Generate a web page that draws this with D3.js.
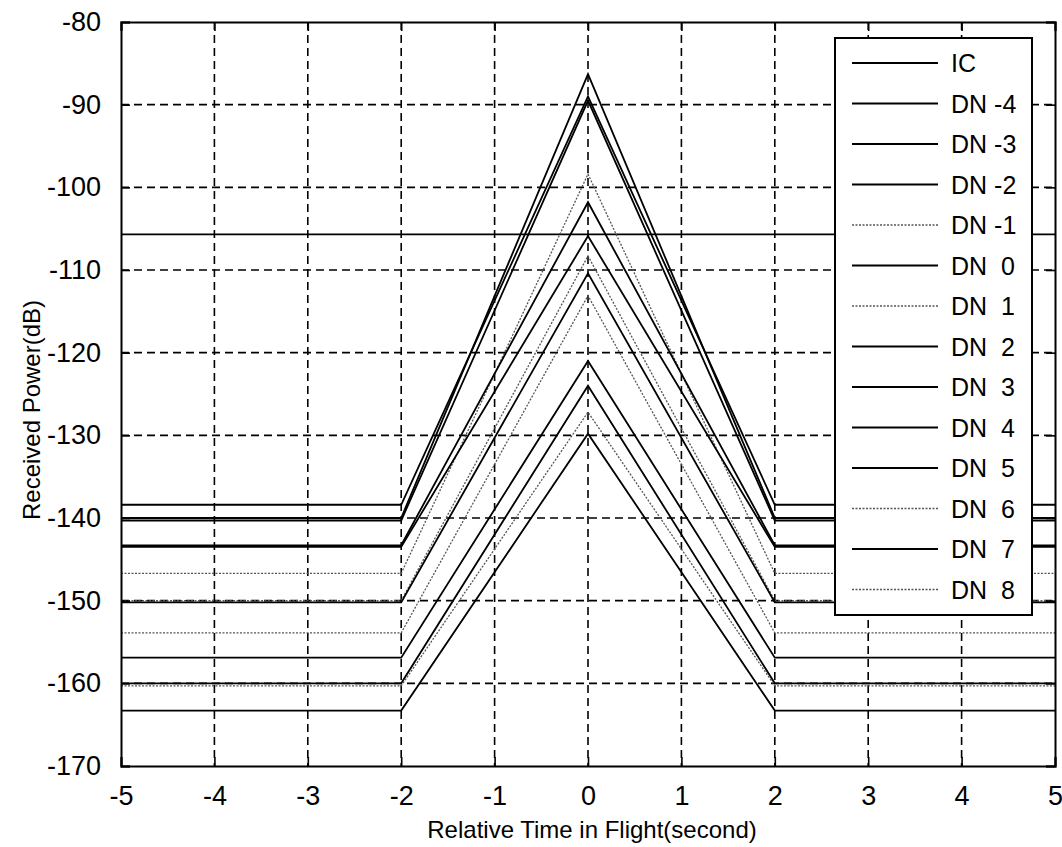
<!DOCTYPE html>
<html>
<head>
<meta charset="utf-8">
<script src="https://cdn.jsdelivr.net/npm/d3@7"></script>
<style>
  body { margin: 0; background: #fff; }
  text { font-family: "Liberation Sans", Arial, sans-serif; fill: #000; }
</style>
</head>
<body>
<script>

// x positions where the curves change direction (seconds)
let xKnots = [-5, -2, 0, 2, 5];

// series, values in dB at each knot
let seriesNames = ["IC", "DN -4", "DN -3", "DN -2", "DN -1", "DN  0", "DN  1", "DN  2", "DN  3", "DN  4", "DN  5", "DN  6", "DN  7", "DN  8"];
let seriesDotted = [false, false, false, false, true, false, true, false, false, false, false, true, false, true];

let icValues = [-105.7, -105.7, -105.7, -105.7, -105.7];
let dnM4 = [-140.0, -140.0, -86.3, -140.0, -140.0];
let dnM3 = [-138.4, -138.4, -89.0, -138.4, -138.4];
let dnM2 = [-140.3, -140.3, -89.5, -140.3, -140.3];
let dnM1 = [-146.7, -146.7, -98.4, -146.7, -146.7];
let dn0 = [-143.3, -143.3, -101.8, -143.3, -143.3];
let dn1 = [-150.0, -150.0, -108.3, -150.0, -150.0];
let dn2 = [-143.5, -143.5, -105.9, -143.5, -143.5];
let dn3 = [-150.2, -150.2, -110.4, -150.2, -150.2];
let dn4 = [-156.9, -156.9, -121.0, -156.9, -156.9];
let dn5 = [-160.0, -160.0, -124.0, -160.0, -160.0];
let dn6 = [-153.9, -153.9, -113.1, -153.9, -153.9];
let dn7 = [-163.3, -163.3, -129.8, -163.3, -163.3];
let dn8 = [-160.3, -160.3, -127.2, -160.3, -160.3];

let allSeries = [icValues, dnM4, dnM3, dnM2, dnM1, dn0, dn1, dn2, dn3, dn4, dn5, dn6, dn7, dn8];

let xTicks = [-5, -4, -3, -2, -1, 0, 1, 2, 3, 4, 5];
let yTicks = [-80, -90, -100, -110, -120, -130, -140, -150, -160, -170];

let width = 1062;
let height = 847;
let plotLeft = 121, plotRight = 1055, plotTop = 22, plotBottom = 766;

let xScale = d3.scaleLinear().domain([-5, 5]).range([plotLeft, plotRight]);
let yScale = d3.scaleLinear().domain([-170, -80]).range([plotBottom, plotTop]);

let svg = d3.select("body")
    .append("svg")
    .attr("width", width)
    .attr("height", height);

svg.append("defs").append("clipPath")
    .attr("id", "plotclip")
    .append("rect")
    .attr("x", plotLeft).attr("y", plotTop)
    .attr("width", plotRight - plotLeft).attr("height", plotBottom - plotTop);

// grid
let grid = svg.append("g").attr("id", "grid");
grid.selectAll("line.vg")
    .data(xTicks.slice(1, -1))
    .enter()
    .append("line")
    .attr("class", "vg")
    .attr("x1", d => xScale(d)).attr("x2", d => xScale(d))
    .attr("y1", plotTop).attr("y2", plotBottom)
    .attr("stroke", "#000").attr("stroke-width", 1.6)
    .attr("stroke-dasharray", "8,5");
grid.selectAll("line.hg")
    .data(yTicks.slice(1, -1))
    .enter()
    .append("line")
    .attr("class", "hg")
    .attr("x1", plotLeft).attr("x2", plotRight)
    .attr("y1", d => yScale(d)).attr("y2", d => yScale(d))
    .attr("stroke", "#000").attr("stroke-width", 1.6)
    .attr("stroke-dasharray", "8,5");

// series lines
let line = d3.line()
    .x((d, i) => xScale(xKnots[i]))
    .y(d => yScale(d));

svg.append("g")
    .attr("clip-path", "url(#plotclip)")
    .selectAll("path")
    .data(allSeries)
    .enter()
    .append("path")
    .attr("d", d => line(d))
    .attr("fill", "none")
    .attr("stroke", (d, i) => seriesDotted[i] ? "#555" : "#000")
    .attr("stroke-width", (d, i) => seriesDotted[i] ? 1.3 : 1.8)
    .attr("stroke-dasharray", (d, i) => seriesDotted[i] ? "2,1.5" : null);

// axes (MATLAB style box with inward ticks), labels use a plain hyphen
let plainNum = d => String(d);

let xAxis = d3.axisBottom(xScale).tickValues(xTicks).tickSize(-9).tickPadding(20).tickFormat(plainNum);
svg.append("g")
    .attr("id", "x-axis")
    .attr("transform", "translate(0," + plotBottom + ")")
    .call(xAxis);
let xTop = d3.axisTop(xScale).tickValues(xTicks).tickSize(-9).tickFormat("");
svg.append("g").attr("transform", "translate(0," + plotTop + ")").call(xTop);

let yAxis = d3.axisLeft(yScale).tickValues(yTicks).tickSize(-9).tickPadding(20).tickFormat(plainNum);
svg.append("g")
    .attr("id", "y-axis")
    .attr("transform", "translate(" + plotLeft + ",0)")
    .call(yAxis);
let yRight = d3.axisRight(yScale).tickValues(yTicks).tickSize(-9).tickFormat("");
svg.append("g").attr("transform", "translate(" + plotRight + ",0)").call(yRight);

svg.selectAll(".domain").attr("stroke", "#000").attr("stroke-width", 2);
svg.selectAll(".tick line").attr("stroke", "#000").attr("stroke-width", 1.6);
svg.selectAll(".tick text")
    .style("font-family", "'Liberation Sans', Arial, sans-serif")
    .style("font-size", "27px")
    .attr("fill", "#000");

// axis labels
svg.append("text")
    .attr("x", 592)
    .attr("y", 838)
    .attr("text-anchor", "middle")
    .style("font-size", "24px")
    .text("Relative Time in Flight(second)");

svg.append("text")
    .attr("transform", "translate(40,410) rotate(-90)")
    .attr("text-anchor", "middle")
    .style("font-size", "24px")
    .text("Received Power(dB)");

// legend
let legX = 835, legY = 38, legW = 197, legH = 577;
let legend = svg.append("g").attr("id", "legend");
legend.append("rect")
    .attr("x", legX).attr("y", legY)
    .attr("width", legW).attr("height", legH)
    .attr("fill", "#fff").attr("stroke", "#000").attr("stroke-width", 2);

let rowStep = 40.5;
let rows = legend.selectAll("g.row")
    .data(seriesNames)
    .enter()
    .append("g")
    .attr("class", "row")
    .attr("transform", (d, i) => "translate(0," + (63 + i * rowStep) + ")");
rows.append("line")
    .attr("x1", 852).attr("x2", 938)
    .attr("y1", 0).attr("y2", 0)
    .attr("stroke", (d, i) => seriesDotted[i] ? "#555" : "#000")
    .attr("stroke-width", (d, i) => seriesDotted[i] ? 1.3 : 1.8)
    .attr("stroke-dasharray", (d, i) => seriesDotted[i] ? "2,1.5" : null);
rows.append("text")
    .attr("x", 951)
    .attr("y", 9)
    .style("font-size", "25px")
    .style("white-space", "pre")
    .attr("xml:space", "preserve")
    .text(d => d);

</script>
</body>
</html>
